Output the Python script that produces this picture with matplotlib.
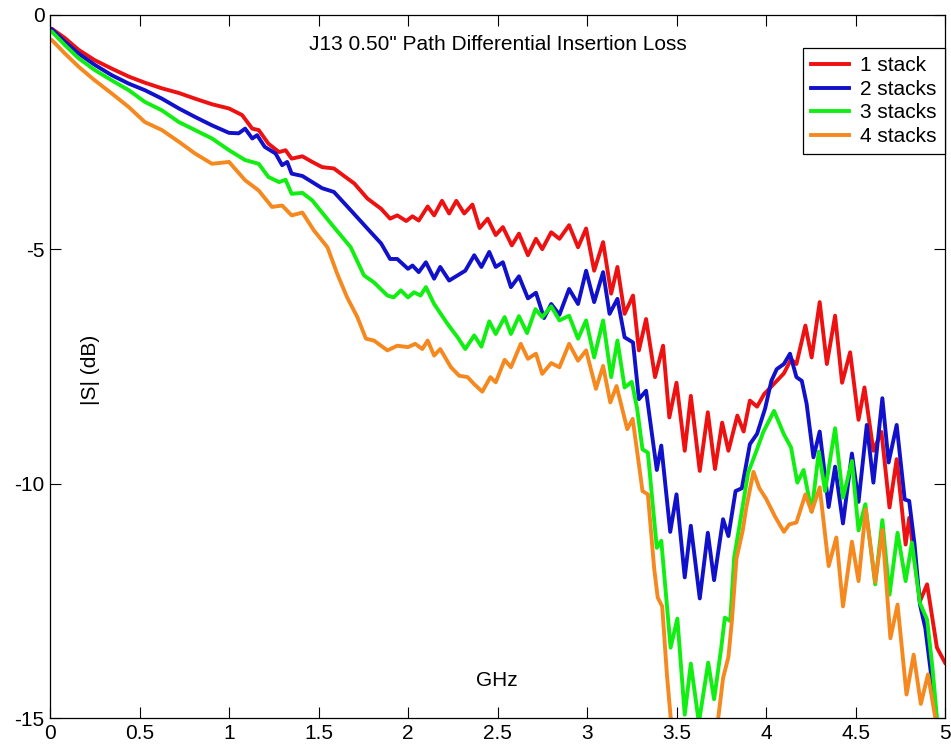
import numpy as np
import matplotlib.pyplot as plt

plt.rcParams['font.family'] = ['Liberation Sans', 'DejaVu Sans']
plt.rcParams['axes.unicode_minus'] = False

x1 = [0.0, 0.01, 0.084, 0.16, 0.25, 0.345, 0.44, 0.53, 0.625, 0.72, 0.81, 0.905, 1.0, 1.073, 1.13, 1.166,
      1.22, 1.28, 1.316, 1.35, 1.41, 1.465, 1.52, 1.586, 1.70, 1.773, 1.85, 1.90, 1.94, 1.99, 2.025, 2.06,
      2.11, 2.146, 2.19, 2.23, 2.27, 2.314, 2.36, 2.40, 2.445, 2.49, 2.53, 2.58, 2.62, 2.67, 2.715, 2.75,
      2.80, 2.846, 2.90, 2.95, 2.995, 3.04, 3.09, 3.135, 3.17, 3.21, 3.257, 3.29, 3.33, 3.38, 3.425, 3.46,
      3.50, 3.546, 3.58, 3.63, 3.675, 3.715, 3.755, 3.79, 3.84, 3.875, 3.91, 3.95, 3.99, 4.05, 4.10, 4.14,
      4.17, 4.22, 4.255, 4.30, 4.34, 4.386, 4.425, 4.47, 4.517, 4.55, 4.60, 4.645, 4.69, 4.73, 4.78, 4.80,
      4.86, 4.90, 4.955, 5.0]
y1 = [-0.30, -0.30, -0.50, -0.75, -0.97, -1.15, -1.32, -1.45, -1.57, -1.67, -1.79, -1.91, -2.00, -2.14, -2.43, -2.46,
      -2.75, -2.93, -2.89, -3.07, -3.02, -3.14, -3.25, -3.28, -3.60, -3.92, -4.14, -4.35, -4.28, -4.40, -4.30, -4.39,
      -4.09, -4.28, -3.97, -4.24, -3.97, -4.24, -4.05, -4.55, -4.35, -4.70, -4.53, -4.92, -4.67, -5.13, -4.78, -5.00,
      -4.64, -4.78, -4.49, -4.96, -4.56, -5.46, -4.85, -5.95, -5.38, -6.38, -5.99, -7.16, -6.49, -7.73, -7.06, -8.59,
      -7.85, -9.30, -8.13, -9.73, -8.48, -9.69, -8.70, -9.30, -8.55, -8.89, -8.23, -8.36, -8.09, -7.85, -7.65, -7.35,
      -7.45, -6.63, -7.31, -6.13, -7.45, -6.42, -7.85, -7.20, -8.64, -7.95, -9.30, -8.90, -10.51, -9.48, -11.30, -10.73,
      -12.51, -12.15, -13.50, -13.82]

x2 = [0.0, 0.01, 0.084, 0.16, 0.25, 0.345, 0.44, 0.53, 0.625, 0.72, 0.81, 0.905, 1.0, 1.054, 1.09, 1.13, 1.157,
      1.20, 1.26, 1.297, 1.325, 1.35, 1.41, 1.465, 1.52, 1.586, 1.68, 1.773, 1.85, 1.90, 1.94, 2.0, 2.025, 2.06,
      2.10, 2.146, 2.18, 2.23, 2.277, 2.32, 2.37, 2.41, 2.454, 2.49, 2.53, 2.575, 2.62, 2.67, 2.715, 2.76, 2.80,
      2.846, 2.90, 2.95, 2.995, 3.04, 3.09, 3.126, 3.17, 3.21, 3.257, 3.29, 3.33, 3.39, 3.415, 3.465, 3.50, 3.546,
      3.58, 3.63, 3.675, 3.71, 3.76, 3.79, 3.83, 3.865, 3.91, 3.95, 3.995, 4.03, 4.06, 4.10, 4.134, 4.17, 4.20,
      4.227, 4.265, 4.30, 4.35, 4.386, 4.43, 4.48, 4.517, 4.563, 4.60, 4.65, 4.685, 4.73, 4.775, 4.80, 4.83, 4.86,
      4.89, 4.92, 4.95, 4.97]
y2 = [-0.30, -0.31, -0.58, -0.83, -1.07, -1.29, -1.47, -1.61, -1.79, -2.00, -2.18, -2.36, -2.52, -2.53, -2.43, -2.64, -2.57,
      -2.82, -2.96, -3.21, -3.14, -3.39, -3.44, -3.57, -3.70, -3.78, -4.17, -4.56, -4.88, -5.21, -5.21, -5.42, -5.35, -5.49,
      -5.28, -5.63, -5.38, -5.67, -5.56, -5.46, -5.13, -5.38, -5.06, -5.38, -5.28, -5.81, -5.58, -6.05, -5.93, -6.47, -6.17,
      -6.40, -5.85, -6.17, -5.46, -6.13, -5.49, -6.38, -6.06, -6.88, -6.99, -8.20, -8.02, -9.71, -9.19, -11.03, -10.23, -12.00,
      -10.90, -12.45, -11.05, -12.06, -10.76, -11.12, -10.16, -10.10, -9.16, -8.94, -8.40, -7.81, -7.56, -7.45, -7.23, -7.73, -7.81,
      -8.30, -9.44, -8.89, -10.50, -9.64, -10.85, -9.36, -10.39, -8.75, -9.98, -8.18, -9.55, -8.75, -10.34, -10.37, -11.30, -12.58,
      -13.08, -14.00, -15.00, -15.60]

x3 = [0.0, 0.01, 0.084, 0.16, 0.25, 0.345, 0.44, 0.53, 0.625, 0.72, 0.81, 0.905, 1.0, 1.09, 1.166, 1.22, 1.28,
      1.316, 1.35, 1.41, 1.465, 1.52, 1.586, 1.68, 1.754, 1.81, 1.885, 1.92, 1.96, 2.0, 2.034, 2.07, 2.10, 2.146,
      2.22, 2.277, 2.32, 2.37, 2.41, 2.454, 2.49, 2.54, 2.575, 2.62, 2.665, 2.712, 2.75, 2.80, 2.846, 2.90, 2.95,
      2.995, 3.04, 3.09, 3.135, 3.17, 3.21, 3.25, 3.28, 3.31, 3.34, 3.39, 3.415, 3.467, 3.505, 3.546, 3.58, 3.625,
      3.677, 3.71, 3.75, 3.77, 3.80, 3.822, 3.856, 3.90, 3.94, 3.985, 4.045, 4.10, 4.14, 4.175, 4.21, 4.255, 4.295,
      4.33, 4.386, 4.43, 4.48, 4.517, 4.555, 4.61, 4.65, 4.69, 4.735, 4.78, 4.815, 4.86, 4.90, 4.93, 4.955, 4.97]
y3 = [-0.35, -0.36, -0.65, -0.93, -1.18, -1.40, -1.61, -1.86, -2.04, -2.29, -2.46, -2.64, -2.89, -3.10, -3.18, -3.46, -3.57,
      -3.52, -3.82, -3.80, -3.96, -4.22, -4.53, -4.96, -5.56, -5.71, -5.99, -6.03, -5.88, -6.03, -5.92, -5.99, -5.81, -6.17,
      -6.59, -6.88, -7.13, -6.84, -7.08, -6.54, -6.81, -6.45, -6.81, -6.43, -6.79, -6.28, -6.45, -6.22, -6.52, -6.42, -6.91,
      -6.52, -7.31, -6.52, -7.73, -6.95, -7.95, -7.83, -8.40, -9.27, -9.34, -11.37, -11.22, -13.50, -12.88, -14.93, -13.84, -15.10,
      -13.82, -14.60, -13.50, -12.86, -12.93, -11.58, -10.80, -9.77, -9.37, -8.90, -8.45, -8.95, -9.23, -9.98, -9.71, -10.60, -9.32,
      -10.16, -8.82, -10.30, -9.52, -11.00, -10.44, -12.15, -10.78, -12.37, -11.05, -12.08, -11.26, -12.55, -12.90, -13.93, -15.00, -15.60]

x4 = [0.0, 0.01, 0.084, 0.16, 0.25, 0.345, 0.44, 0.53, 0.625, 0.72, 0.81, 0.905, 1.0, 1.09, 1.166, 1.24, 1.297,
      1.35, 1.41, 1.474, 1.55, 1.605, 1.66, 1.717, 1.765, 1.81, 1.885, 1.94, 2.0, 2.04, 2.08, 2.11, 2.146, 2.18,
      2.24, 2.286, 2.333, 2.37, 2.415, 2.46, 2.49, 2.54, 2.575, 2.63, 2.67, 2.715, 2.75, 2.80, 2.846, 2.90, 2.95,
      2.995, 3.05, 3.09, 3.13, 3.165, 3.225, 3.255, 3.29, 3.31, 3.34, 3.375, 3.395, 3.42, 3.447, 3.47, 3.50, 3.60,
      3.70, 3.73, 3.76, 3.79, 3.81, 3.835, 3.87, 3.89, 3.93, 3.963, 4.0, 4.05, 4.10, 4.13, 4.17, 4.22, 4.255, 4.30,
      4.35, 4.393, 4.43, 4.48, 4.517, 4.557, 4.61, 4.65, 4.695, 4.735, 4.785, 4.825, 4.865, 4.905, 4.946, 4.97]
y4 = [-0.52, -0.54, -0.83, -1.11, -1.40, -1.68, -1.97, -2.29, -2.46, -2.71, -2.96, -3.18, -3.14, -3.53, -3.75, -4.10, -4.07,
      -4.28, -4.22, -4.60, -4.96, -5.53, -6.03, -6.45, -6.91, -6.95, -7.16, -7.06, -7.09, -7.02, -7.13, -6.95, -7.27, -7.13,
      -7.52, -7.70, -7.73, -7.88, -8.04, -7.73, -7.84, -7.36, -7.52, -7.02, -7.34, -7.23, -7.66, -7.43, -7.52, -7.02, -7.38,
      -7.16, -7.98, -7.49, -8.27, -7.92, -8.84, -8.62, -9.59, -10.16, -10.23, -11.80, -12.43, -12.62, -14.10, -15.10, -16.00, -16.50,
      -16.00, -15.10, -14.15, -13.70, -12.90, -11.60, -11.00, -10.51, -9.75, -10.10, -10.32, -10.70, -11.03, -10.87, -10.83, -10.23, -10.60, -10.08,
      -11.76, -11.15, -12.62, -11.24, -12.08, -10.55, -12.10, -10.99, -13.30, -12.58, -14.50, -13.65, -14.70, -14.07, -15.00, -15.60]

labels = ['1 stack', '2 stacks', '3 stacks', '4 stacks']
colors = ['#ee1111', '#1111cc', '#11ee11', '#f5891f']

fig = plt.figure(figsize=(9.51, 7.5), dpi=100)
ax = fig.add_axes([50/951, 1-718/750, 895/951, 703.3/750])

for xs, ys, lab, c in zip([x1, x2, x3, x4], [y1, y2, y3, y4], labels, colors):
    ax.plot(xs, ys, color=c, lw=2.8, label=lab, solid_joinstyle='round')

ax.set_xlim(0, 5)
ax.set_ylim(-15, 0)
ax.set_xticks(np.arange(0, 5.01, 0.5))
ax.set_xticklabels(['0', '0.5', '1', '1.5', '2', '2.5', '3', '3.5', '4', '4.5', '5'])
ax.set_yticks([-15, -10, -5, 0])
ax.tick_params(direction='in', length=8, width=0.8, top=True, right=True, labelsize=15, pad=4)
for s in ax.spines.values():
    s.set_linewidth(0.9)

ax.text(0.5, 0.958, 'J13 0.50" Path Differential Insertion Loss', transform=ax.transAxes,
        ha='center', va='center', fontsize=15)
ax.text(0.0447, 0.495, '|S| (dB)', transform=ax.transAxes, rotation=90,
        ha='center', va='center', fontsize=15)
ax.text(0.4994, 0.0536, 'GHz', transform=ax.transAxes, ha='center', va='center', fontsize=15)

leg = fig.legend(loc='upper left', bbox_to_anchor=(803/951, 1-48/750), fontsize=15,
                 fancybox=False, framealpha=1, edgecolor='black', handlelength=1.8,
                 handletextpad=0.55, labelspacing=0.22, borderpad=0.4, borderaxespad=0)
leg.get_frame().set_linewidth(0.9)

fig.savefig('out.png', dpi=100)
